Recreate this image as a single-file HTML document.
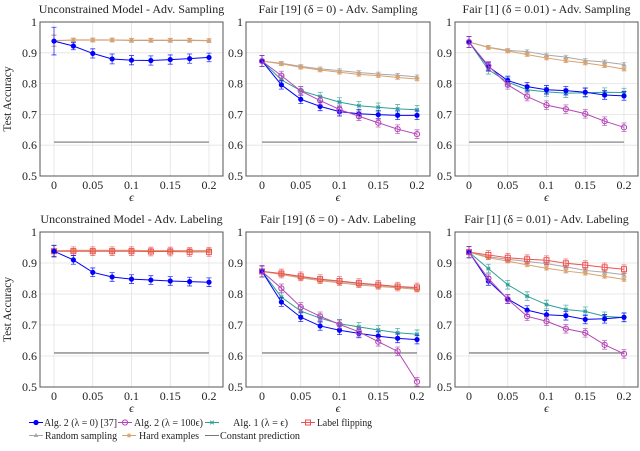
<!DOCTYPE html>
<html><head><meta charset="utf-8">
<style>
body{margin:0;background:#fff;width:640px;height:446px;overflow:hidden}
svg text{font-family:"Liberation Serif",serif;fill:#222}
</style></head>
<body>
<svg id="chart" width="640" height="446" viewBox="0 0 640 446" xmlns="http://www.w3.org/2000/svg"></svg>
<script>
const epsilons=[0,0.025,0.05,0.075,0.1,0.125,0.15,0.175,0.2];
const xTicks=[0,0.05,0.1,0.15,0.2];
const xTickLabels=["0","0.05","0.1","0.15","0.2"];
const yTicks=[0.5,0.6,0.7,0.8,0.9,1];
const yTickLabels=["0.5","0.6","0.7","0.8","0.9","1"];
const constantPrediction=0.61;
const titles=["Unconstrained Model - Adv. Sampling","Fair [19] (\u03b4 = 0) - Adv. Sampling","Fair [1] (\u03b4 = 0.01) - Adv. Sampling","Unconstrained Model - Adv. Labeling","Fair [19] (\u03b4 = 0) - Adv. Labeling","Fair [1] (\u03b4 = 0.01) - Adv. Labeling"];
// panel 0
const p0Gray=[.94,.941,.941,.941,.94,.94,.94,.94,.939];
const p0Orange=[.938,.942,.942,.942,.941,.941,.941,.941,.94];
const p0Blue=[.938,.922,.898,.880,.876,.875,.878,.881,.885];
const p0BlueErr=[.045,.012,.015,.016,.015,.015,.015,.015,.014];
// panel 1
const p1Gray=[.873,.866,.856,.848,.842,.836,.831,.827,.822];
const p1Orange=[.873,.864,.853,.844,.837,.830,.826,.820,.815];
const p1Teal=[.873,.812,.777,.758,.740,.728,.723,.718,.715];
const p1Blue=[.873,.796,.749,.726,.709,.702,.699,.697,.697];
const p1Purple=[.873,.826,.776,.745,.716,.694,.673,.652,.636];
// panel 2
const p2Gray=[.935,.918,.908,.904,.893,.886,.875,.870,.862];
const p2Orange=[.935,.917,.906,.894,.883,.874,.867,.858,.847];
const p2Teal=[.935,.845,.805,.780,.773,.769,.770,.772,.771];
const p2Blue=[.935,.855,.810,.790,.780,.777,.772,.763,.760];
const p2Purple=[.935,.858,.796,.758,.730,.717,.702,.678,.658];
// panel 3
const p3Gray=[.94,.94,.94,.94,.94,.94,.94,.94,.94];
const p3Orange=[.938,.941,.941,.941,.941,.94,.94,.94,.94];
const p3Red=[.938,.938,.938,.938,.938,.937,.937,.936,.936];
const p3Blue=[.938,.910,.870,.855,.848,.845,.842,.840,.838];
// panel 4
const p4Red=[.873,.866,.857,.848,.842,.835,.830,.824,.821];
const p4Gray=[.873,.865,.855,.846,.840,.833,.828,.822,.818];
const p4Orange=[.873,.863,.852,.843,.836,.829,.824,.820,.815];
const p4Teal=[.873,.790,.745,.722,.704,.694,.684,.675,.670];
const p4Blue=[.873,.774,.725,.697,.683,.673,.664,.657,.653];
const p4Purple=[.873,.818,.758,.728,.702,.678,.646,.615,.517];
// panel 5
const p5Red=[.935,.926,.917,.912,.909,.899,.893,.886,.880];
const p5Gray=[.935,.920,.912,.905,.898,.888,.876,.870,.862];
const p5Orange=[.935,.917,.906,.894,.883,.874,.867,.857,.847];
const p5Teal=[.935,.882,.830,.793,.766,.750,.744,.728,.724];
const p5Blue=[.935,.842,.784,.748,.733,.730,.718,.720,.725];
const p5Purple=[.935,.850,.783,.728,.712,.688,.675,.636,.607];

const COL={gray:"#a8a8a8",orange:"#d9a26e",teal:"#2e9e98",blue:"#0000ff",purple:"#b545b5",red:"#f05050"};
const panels=[
 {s:[["gray",p0Gray],["orange",p0Orange],["blue",p0Blue,p0BlueErr]]},
 {s:[["gray",p1Gray],["orange",p1Orange],["teal",p1Teal],["blue",p1Blue],["purple",p1Purple]]},
 {s:[["gray",p2Gray],["orange",p2Orange],["teal",p2Teal],["blue",p2Blue],["purple",p2Purple]]},
 {s:[["gray",p3Gray],["orange",p3Orange],["red",p3Red],["blue",p3Blue]]},
 {s:[["gray",p4Gray],["orange",p4Orange],["red",p4Red],["teal",p4Teal],["blue",p4Blue],["purple",p4Purple]]},
 {s:[["gray",p5Gray],["orange",p5Orange],["red",p5Red],["teal",p5Teal],["blue",p5Blue],["purple",p5Purple]]}
];
const NS="http://www.w3.org/2000/svg";
const svg=document.getElementById("chart");
function mk(tag,attrs,parent){const e=document.createElementNS(NS,tag);for(const k in attrs)e.setAttribute(k,attrs[k]);(parent||svg).appendChild(e);return e;}
const boxX=[[40,223],[246,430],[455,638]];
const x0s=[[54,209],[262,417],[469,624]];
const rows=[{top:22,bot:176},{top:232,bot:387}];
function marker(g,kind,x,y){
 const c=COL[kind];
 if(kind==="blue") return mk("circle",{cx:x,cy:y,r:2.6,fill:c},g);
 if(kind==="purple") return mk("circle",{cx:x,cy:y,r:2.6,fill:"none",stroke:c,"stroke-width":1},g);
 if(kind==="red") return mk("rect",{x:x-2.5,y:y-2.5,width:5,height:5,fill:"none",stroke:c,"stroke-width":1},g);
 if(kind==="gray") return mk("path",{d:`M${x},${y-2.5}L${x+2.3},${y+1.5}L${x-2.3},${y+1.5}Z`,fill:c},g);
 if(kind==="orange") return mk("path",{d:`M${x-2.3},${y}L${x+2.3},${y}M${x},${y-2.3}L${x},${y+2.3}M${x-1.6},${y-1.6}L${x+1.6},${y+1.6}M${x-1.6},${y+1.6}L${x+1.6},${y-1.6}`,stroke:c,"stroke-width":0.9},g);
 return mk("path",{d:`M${x-1.8},${y-1.8}L${x+1.8},${y+1.8}M${x-1.8},${y+1.8}L${x+1.8},${y-1.8}M${x-2},${y}L${x+2},${y}`,stroke:c,"stroke-width":1},g);
}
panels.forEach((p,i)=>{
 const col=i%3,row=Math.floor(i/3);
 const [bl,br]=boxX[col],[xa,xb]=x0s[col],{top,bot}=rows[row];
 const X=v=>xa+(v-0)/(0.2-0)*(xb-xa);
 const Y=v=>bot-(v-0.5)/(1-0.5)*(bot-top);
 const g=mk("g",{});
 
 
 xTicks.forEach((t,k)=>{mk("line",{x1:X(t),x2:X(t),y1:top,y2:bot,stroke:"#e2e2e2","stroke-width":0.8},g);
  const tl=mk("text",{x:X(t),y:bot+13,"text-anchor":"middle","font-size":"12"},g);tl.textContent=xTickLabels[k];
  });
 yTicks.forEach((t,k)=>{mk("line",{x1:bl,x2:br,y1:Y(t),y2:Y(t),stroke:"#e2e2e2","stroke-width":0.8},g);
  const tl=mk("text",{x:bl-3,y:Y(t)+4,"text-anchor":"end","font-size":"12"},g);tl.textContent=yTickLabels[k];
  });
 const tt=mk("text",{x:(bl+br)/2,y:top-9,"text-anchor":"middle","font-size":"12"},g);tt.textContent=titles[i];
 
 const xl=mk("text",{x:(bl+br)/2,y:bot+25,"text-anchor":"middle","font-size":"12","font-style":"italic"},g);xl.textContent="\u03f5";
 
 if(col===0){const yl=mk("text",{x:0,y:0,"text-anchor":"middle","font-size":"11.5",transform:`translate(11,${(top+bot)/2}) rotate(-90)`},g);yl.textContent="Test Accuracy";
  }
 const cl=mk("line",{x1:X(0),x2:X(0.2),y1:Y(constantPrediction),y2:Y(constantPrediction),stroke:"#999","stroke-width":1.6},g);
 
 p.s.forEach(([kind,vals,err])=>{
  const c=COL[kind];
  const sg=mk("g",{},g);
  
  const e=err||vals.map((v,k)=>k===0?0.018:(kind==="gray"||kind==="orange"?0.006:0.014));
  vals.forEach((v,k)=>{const x=X(epsilons[k]);
   mk("path",{d:`M${x},${Y(v-e[k])}L${x},${Y(v+e[k])}M${x-2.5},${Y(v-e[k])}L${x+2.5},${Y(v-e[k])}M${x-2.5},${Y(v+e[k])}L${x+2.5},${Y(v+e[k])}`,stroke:c,"stroke-width":0.8,opacity:0.8},sg);});
  mk("polyline",{points:vals.map((v,k)=>X(epsilons[k])+","+Y(v)).join(" "),fill:"none",stroke:c,"stroke-width":1},sg);
  vals.forEach((v,k)=>marker(sg,kind,X(epsilons[k]),Y(v)));
 });
 const bx=mk("rect",{x:bl,y:top,width:br-bl,height:bot-top,fill:"none",stroke:"#555","stroke-width":1},g);
 
});
// legend: [kind,label,lineX,baselineY,textX,textWidth]
const legendItems=[["blue","Alg. 2 (\u03bb = 0) [37]",29,426,44,73],["purple","Alg. 2 (\u03bb = 100\u03f5)",118,426,134,69],["teal","Alg. 1 (\u03bb = \u03f5)",205,426,233,55],["red","Label flipping",301,426,317,55],["gray","Random sampling",29,439,45,72],["orange","Hard examples",122,439,139,60],["const","Constant prediction",205,439,220,80]];
legendItems.forEach(([kind,label,x,y,tx,tw])=>{
 const g=mk("g",{});
 
 
 const c=kind==="const"?"#777":COL[kind];
 mk("line",{x1:x,x2:x+14,y1:y-3.5,y2:y-3.5,stroke:c,"stroke-width":1},g);
 if(kind!=="const")marker(g,kind,x+7,y-3.5);
 const t=mk("text",{x:tx,y:y,"font-size":"11",textLength:tw,lengthAdjust:"spacingAndGlyphs"},g);t.textContent=label;
});
</script>
</body></html>
